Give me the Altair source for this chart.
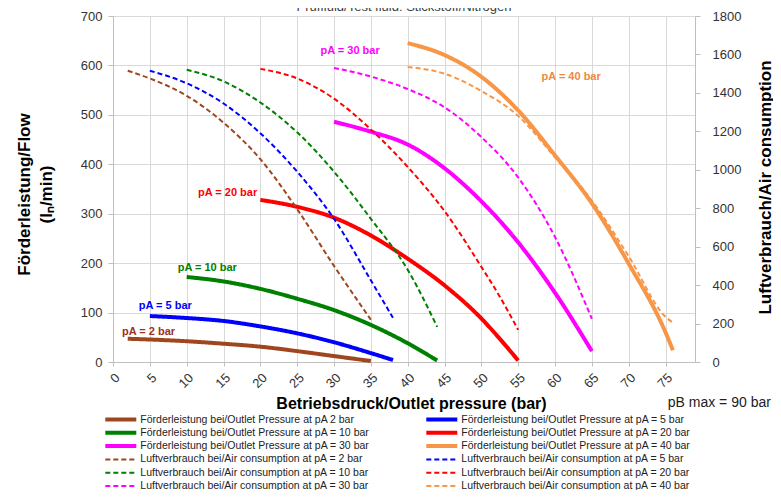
import altair as alt
import pandas as pd

# ---------------- texts ----------------
chart_title = "Prüffluid/Test fluid: Stickstoff/Nitrogen"
x_title = "Betriebsdruck/Outlet pressure (bar)"
y_left_title = ["Förderleistung/Flow", "(lₙ/min)"]
y_right_title = ["Luftverbrauch/Air consumption", "(lₙ/min)"]

flow_labels = [
    "Förderleistung bei/Outlet Pressure at pA 2 bar",
    "Förderleistung bei/Outlet Pressure at pA = 5 bar",
    "Förderleistung bei/Outlet Pressure at pA = 10 bar",
    "Förderleistung bei/Outlet Pressure at pA = 20 bar",
    "Förderleistung bei/Outlet Pressure at pA = 30 bar",
    "Förderleistung bei/Outlet Pressure at pA = 40 bar",
]
air_labels = [
    "\u00a0Luftverbrauch bei/Air consumption at pA = 2 bar",
    "\u00a0Luftverbrauch bei/Air consumption at pA = 5 bar",
    "\u00a0Luftverbrauch bei/Air consumption at pA = 10 bar",
    "\u00a0Luftverbrauch bei/Air consumption at pA = 20 bar",
    "\u00a0Luftverbrauch bei/Air consumption at pA = 30 bar",
    "\u00a0Luftverbrauch bei/Air consumption at pA = 40 bar",
]
series_colors = ["#A0461E", "#0000FF", "#008000", "#FF0000", "#FF00FF", "#F79646"]

# ---------------- flow (left axis, l/min) ----------------
flow_x_2 = [2, 5, 10, 15, 20, 25, 30, 35]
flow_y_2 = [47, 45.5, 42, 37, 31, 22, 12, 2]
flow_x_5 = [5, 10, 15, 20, 25, 30, 35, 38]
flow_y_5 = [93, 89, 83, 72, 58, 40, 18, 4]
flow_x_10 = [10, 15, 20, 25, 30, 35, 40, 44]
flow_y_10 = [172, 163, 148, 128, 105, 75, 38, 3]
flow_x_20 = [20, 25, 30, 35, 40, 45, 50, 52.5, 55]
flow_y_20 = [328, 314, 292, 256, 209, 155, 88, 47, 3]
flow_x_30 = [30, 35, 40, 45, 50, 55, 60, 65]
flow_y_30 = [486, 466, 440, 392, 325, 242, 140, 22]
flow_x_40 = [40, 45, 50, 55, 60, 65, 70, 75, 76]
flow_y_40 = [645, 621, 577, 509, 418, 321, 199, 60, 24]

# ---------------- air consumption (right axis, l/min) ----------------
air_x_2 = [2, 5, 10, 15, 20, 25, 30, 35]
air_y_2 = [1515, 1475, 1385, 1245, 1055, 795, 500, 220]
air_x_5 = [5, 10, 15, 20, 25, 30, 35, 38]
air_y_5 = [1515, 1450, 1345, 1190, 990, 745, 425, 230]
air_x_10 = [10, 15, 20, 25, 30, 35, 40, 44]
air_y_10 = [1520, 1460, 1350, 1195, 990, 745, 480, 183]
air_x_20 = [20, 25, 30, 35, 40, 45, 50, 52.5, 55]
air_y_20 = [1525, 1475, 1370, 1210, 1015, 785, 495, 340, 167]
air_x_30 = [30, 35, 40, 45, 50, 55, 60, 65]
air_y_30 = [1530, 1485, 1420, 1325, 1170, 960, 650, 225]
air_x_40 = [40, 45, 50, 55, 60, 65, 70, 75, 76]
air_y_40 = [1535, 1500, 1410, 1280, 1065, 840, 550, 235, 205]

# ---------------- annotations ----------------
ann_text = ["pA = 2 bar", "pA = 5 bar", "pA = 10 bar", "pA = 20 bar", "pA = 30 bar", "pA = 40 bar"]
ann_x = [4.83, 7.1, 12.8, 15.56, 32.18, 62.19]
ann_y = [61, 113, 191, 341, 629, 576]
ann_color = ["#A03020", "#0000FF", "#008000", "#FF0000", "#FF00FF", "#F0883E"]

note_text = ["pB max = 90 bar"]
note_x = [89.3]
note_y = [-83]

x_ticks = list(range(0, 80, 5))
y_left_ticks = list(range(0, 800, 100))
y_right_ticks = list(range(0, 2000, 200))

# ---------------- tables ----------------
flow_sets = [(flow_x_2, flow_y_2), (flow_x_5, flow_y_5), (flow_x_10, flow_y_10),
             (flow_x_20, flow_y_20), (flow_x_30, flow_y_30), (flow_x_40, flow_y_40)]
air_sets = [(air_x_2, air_y_2), (air_x_5, air_y_5), (air_x_10, air_y_10),
            (air_x_20, air_y_20), (air_x_30, air_y_30), (air_x_40, air_y_40)]

flow_rows = []
for lab, (xs, ys) in zip(flow_labels, flow_sets):
    for xv, yv in zip(xs, ys):
        flow_rows.append({"series": lab, "p": xv, "flow": yv})
air_rows = []
for lab, (xs, ys) in zip(air_labels, air_sets):
    for xv, yv in zip(xs, ys):
        air_rows.append({"series": lab, "p": xv, "air": yv})

flow_df = pd.DataFrame(flow_rows)
air_df = pd.DataFrame(air_rows)
ann_df = pd.DataFrame({"t": ann_text, "p": ann_x, "flow": ann_y, "c": ann_color})
note_df = pd.DataFrame({"t": note_text, "p": note_x, "flow": note_y})

# legend fills column by column: left column = 2/10/30 bar, right column = 5/20/40 bar
left_idx = [0, 2, 4]
right_idx = [1, 3, 5]
domain = ([flow_labels[i] for i in left_idx] + [air_labels[i] for i in left_idx]
          + [flow_labels[i] for i in right_idx] + [air_labels[i] for i in right_idx])
color_range = ([series_colors[i] for i in left_idx] * 2 + [series_colors[i] for i in right_idx] * 2)
dash_range = ([[1, 0]] * 3 + [[5, 3]] * 3) * 2
width_range = ([4] * 3 + [2] * 3) * 2

FONT = "Liberation Sans"

legend = alt.Legend(
    title=None, orient="none", legendX=-9.7, legendY=397, columns=2,
    columnPadding=54, rowPadding=0.3, symbolType="stroke", symbolSize=961,
    clipHeight=13, labelFont=FONT, labelFontSize=10.5, labelColor="#222222",
    labelOffset=2, labelLimit=400, padding=0,
)
color_enc = alt.Color("series:N", scale=alt.Scale(type="ordinal", domain=domain, range=color_range), legend=legend)
dash_enc = alt.StrokeDash("series:N", scale=alt.Scale(type="ordinal", domain=domain, range=dash_range), legend=legend)
width_enc = alt.StrokeWidth("series:N", scale=alt.Scale(type="ordinal", domain=domain, range=width_range), legend=legend)

x_scale = alt.Scale(domain=[0, 79], nice=False, zero=False)
x_axis = alt.Axis(
    values=x_ticks, labelAngle=315, grid=True, gridColor="#D9D9D9",
    domainColor="#BFBFBF", tickColor="#BFBFBF", tickSize=4,
    labelFont=FONT, labelFontSize=13, labelColor="#333333", labelPadding=5,
    title=x_title, titleFont=FONT, titleFontSize=16, titleFontWeight="bold",
    titleColor="#000000", titleX=298, titleY=46.5, titleBaseline="alphabetic",
    titleAlign="center",
)
y_left_scale = alt.Scale(domain=[0, 700], nice=False)
y_left_axis = alt.Axis(
    values=y_left_ticks, grid=True, gridColor="#D9D9D9", domainColor="#BFBFBF",
    tickColor="#BFBFBF", tickSize=5, labelFont=FONT, labelFontSize=13,
    labelColor="#333333", labelPadding=6, format="d",
    title=y_left_title, titleFont=FONT, titleFontSize=17, titleFontWeight="bold",
    titleColor="#000000", titleAngle=270, titleX=-88.7, titleY=178,
    titleBaseline="middle", titleAlign="center", titleLineHeight=22,
)
y_right_axis = alt.Axis(
    orient="right", values=y_right_ticks, grid=False, domainColor="#BFBFBF",
    tickColor="#BFBFBF", tickSize=5, labelFont=FONT, labelFontSize=13,
    labelColor="#333333", labelPadding=12, format="d",
    title=y_right_title, titleFont=FONT, titleFontSize=17, titleFontWeight="bold",
    titleColor="#000000", titleAngle=270, titleX=70, titleY=171,
    titleBaseline="middle", titleAlign="center", titleLineHeight=22,
)

solid = alt.Chart(flow_df).mark_line(interpolate="monotone", strokeCap="butt").encode(
    x=alt.X("p:Q", scale=x_scale, axis=x_axis),
    y=alt.Y("flow:Q", scale=y_left_scale, axis=y_left_axis),
    color=color_enc, strokeDash=dash_enc, strokeWidth=width_enc,
)

labels = alt.Chart(ann_df).mark_text(font=FONT, fontSize=11, fontWeight="bold").encode(
    x=alt.X("p:Q", scale=x_scale, axis=x_axis),
    y=alt.Y("flow:Q", scale=y_left_scale, axis=y_left_axis),
    text="t:N",
    color=alt.Color("c:N", scale=None),
)

note = alt.Chart(note_df).mark_text(font=FONT, fontSize=14, align="right", color="#222222").encode(
    x=alt.X("p:Q", scale=x_scale, axis=x_axis),
    y=alt.Y("flow:Q", scale=y_left_scale, axis=y_left_axis),
    text="t:N",
)

dashed = alt.Chart(air_df).mark_line(interpolate="monotone", strokeCap="butt").encode(
    x=alt.X("p:Q", scale=x_scale, axis=x_axis),
    y=alt.Y("air:Q", scale=alt.Scale(domain=[0, 1800], nice=False), axis=y_right_axis),
    color=color_enc, strokeDash=dash_enc, strokeWidth=width_enc,
)

chart = alt.layer(alt.layer(solid, labels, note), dashed).resolve_scale(
    y="independent"
).properties(
    width=582, height=346,
    autosize=alt.AutoSizeParams(type="none"),
    padding={"left": 105, "top": 8, "right": 78, "bottom": 128},
    title=alt.TitleParams(
        text=chart_title, font=FONT, fontSize=13, fontWeight="normal",
        color="#404040", offset=1, dy=5, anchor="middle",
    ),
).configure_view(stroke=None).configure(background="white")

chart.save("out.html", embed_options={"renderer": "svg", "actions": False})
